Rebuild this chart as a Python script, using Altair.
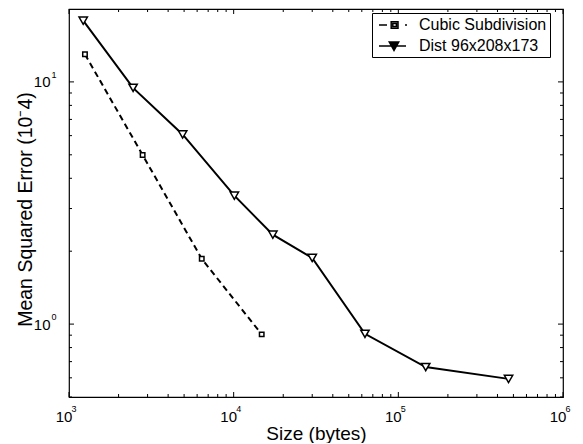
import altair as alt
import pandas as pd

# ---- data ----
series_names = ["Cubic Subdivision", "Dist 96x208x173"]
cubic_size = [1250, 2800, 6400, 14800]
cubic_mse = [13.0, 4.99, 1.86, 0.907]
dist_size = [1220, 2450, 4900, 10100, 17300, 30000, 62700, 146600, 467000]
dist_mse = [17.9, 9.45, 6.07, 3.39, 2.34, 1.875, 0.912, 0.665, 0.594]

x_major = [1000, 10000, 100000, 1000000]
x_exp = ["3", "4", "5", "6"]
x_minor = [m * 10 ** e for e in (3, 4, 5) for m in range(2, 10)]
y_major = [1, 10]
y_exp = ["0", "1"]
y_minor = [0.5, 0.6, 0.7, 0.8, 0.9, 2, 3, 4, 5, 6, 7, 8, 9]

FONT = "Liberation Sans"
W, H = 494, 388

df = pd.DataFrame({
    "size": cubic_size + dist_size,
    "mse": cubic_mse + dist_mse,
    "series": [series_names[0]] * len(cubic_size) + [series_names[1]] * len(dist_size),
})

xscale = alt.Scale(type="log", domain=[1000, 1000000], nice=False)
yscale = alt.Scale(type="log", domain=[0.5, 20], nice=False)

xaxis = alt.Axis(values=x_major, labelExpr="'10'",
                 title="Size (bytes)", grid=False, ticks=False, domain=False,
                 labelPadding=12, labelOffset=-5.5, labelFlush=False, labelFontSize=15,
                 titleFontSize=19, titlePadding=0)
yaxis = alt.Axis(values=y_major, labelExpr="'10'",
                 title="Mean Squared Error (10⁻4)", grid=False, ticks=False, domain=False,
                 labelPadding=19, labelFontSize=15, titleFontSize=19.5, titlePadding=-2,
                 titleY=200)


def X(field):
    return alt.X(field, scale=xscale, axis=xaxis)


def Y(field):
    return alt.Y(field, scale=yscale, axis=yaxis)


base = alt.Chart(df)
cubic = base.transform_filter(alt.datum.series == series_names[0])
dist = base.transform_filter(alt.datum.series == series_names[1])

cubic_line = cubic.mark_line(color="black", strokeWidth=2, strokeDash=[6, 4]).encode(x=X("size:Q"), y=Y("mse:Q"))
dist_line = dist.mark_line(color="black", strokeWidth=2).encode(x=X("size:Q"), y=Y("mse:Q"))

cubic_pts = cubic.mark_point(
    shape="square", size=20, filled=True, fill="white", stroke="black", strokeWidth=1.5, opacity=1
).encode(x=X("size:Q"), y=Y("mse:Q"))

dist_pts = dist.mark_point(
    shape="triangle-down", size=70, filled=True, fill="white", stroke="black", strokeWidth=1.5, opacity=1
).encode(x=X("size:Q"), y=Y("mse:Q"))

# legend symbols: line + marker drawn as one path (units of 8px)
cubic_path = ("M-0.625,0L0.375,0 M0.9,-0.42L1.75,-0.42L1.75,0.42L0.9,0.42Z "
              "M1.1,-0.2L1.55,-0.2L1.55,0.2L1.1,0.2Z "
              "M2.625,0L2.875,0")
dist_path = ("M-0.625,0L2.75,0 M0.66,-0.5L1.84,-0.5L1.25,0.55Z "
             "M0.95,-0.34L1.55,-0.34L1.25,0.2Z M1.12,-0.22L1.38,-0.22L1.25,0.0Z")

legend_layer = base.mark_point(opacity=0, size=1).encode(
    x=X("size:Q"), y=Y("mse:Q"),
    shape=alt.Shape("series:N", scale=alt.Scale(domain=series_names, range=[cubic_path, dist_path]),
                    legend=alt.Legend(title=None, orient="none", legendX=303, legendY=4, padding=3,
                                      symbolSize=256, symbolStrokeWidth=1.5, symbolStrokeColor="black",
                                      symbolOpacity=1, labelOffset=26,
                                      rowPadding=4, labelFontSize=16, labelFont=FONT,
                                      labelColor="black", fillColor="white", strokeColor="black")),
)

x_sup = alt.Chart(pd.DataFrame({"size": x_major, "e": x_exp})).mark_text(
    align="left", baseline="alphabetic", dx=2.5, fontSize=9, font=FONT, color="black"
).encode(x=X("size:Q"), y=alt.value(H + 14.7), text="e:N")

y_sup = alt.Chart(pd.DataFrame({"mse": y_major, "e": y_exp})).mark_text(
    align="left", baseline="alphabetic", dy=-4, fontSize=9, font=FONT, color="black"
).encode(y=Y("mse:Q"), x=alt.value(-17.5), text="e:N")


def xticks(vals, y0, y1):
    return alt.Chart(pd.DataFrame({"size": vals})).mark_rule(color="black", strokeWidth=1).encode(
        x=X("size:Q"), y=alt.value(y0), y2=alt.value(y1))


def yticks(vals, x0, x1):
    return alt.Chart(pd.DataFrame({"mse": vals})).mark_rule(color="black", strokeWidth=1).encode(
        y=Y("mse:Q"), x=alt.value(x0), x2=alt.value(x1))


ticks = [
    xticks(x_major, H, H - 5), xticks(x_major, 0, 5),
    xticks(x_minor, H, H - 3), xticks(x_minor, 0, 3),
    yticks(y_major, 0, 5), yticks(y_major, W, W - 5),
    yticks(y_minor, 0, 3), yticks(y_minor, W, W - 3),
]

chart = alt.layer(cubic_line, dist_line, cubic_pts, dist_pts, legend_layer, x_sup, y_sup, *ticks).properties(
    width=W, height=H,
    autosize=alt.AutoSizeParams(type="none"),
    padding={"left": 61, "top": 1, "right": 12, "bottom": 46},
).configure_view(stroke="black", strokeWidth=1.2).configure_axis(
    labelFont=FONT, titleFont=FONT, labelColor="black", titleColor="black", titleFontWeight="normal"
).configure_legend(labelFont=FONT)

chart.save("out.html", embed_options={"renderer": "svg", "actions": False})
